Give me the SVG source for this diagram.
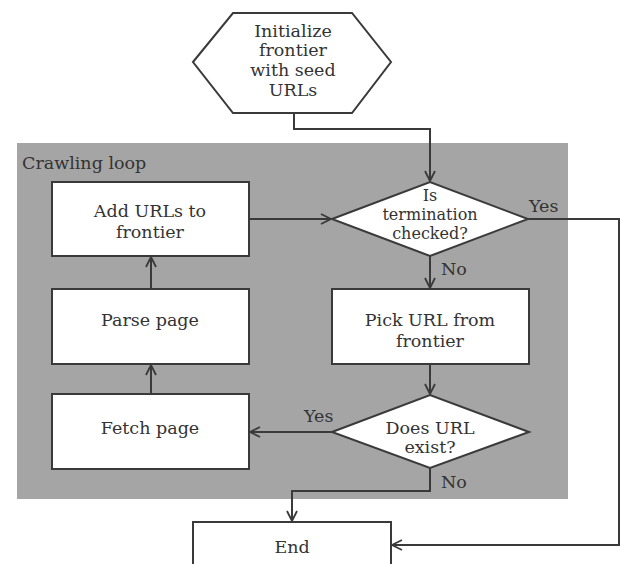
<svg xmlns="http://www.w3.org/2000/svg" width="621" height="564" viewBox="0 0 621 564">
<style>
.node{fill:#fff;stroke:#3a3a3a;stroke-width:2}
.t{font-family:"DejaVu Serif","Liberation Serif",serif;font-size:17.5px;fill:#333;text-anchor:middle}
.s{font-size:16px}
.lbl{font-family:"DejaVu Serif","Liberation Serif",serif;font-size:17.5px;fill:#333}
.c{fill:none;stroke:#3a3a3a;stroke-width:2}
</style>
<defs>
<marker id="arr" viewBox="0 0 12 12" refX="11" refY="6" markerWidth="12" markerHeight="12" markerUnits="userSpaceOnUse" orient="auto">
<path d="M1,1 L11,6 L1,11" fill="none" stroke="#3a3a3a" stroke-width="1.8"/>
</marker>
</defs>
<rect width="621" height="564" fill="#fff"/>
<g id="loop">
<rect x="17" y="143" width="551" height="356" fill="#a5a5a5"/>
<text class="lbl" x="22" y="169">Crawling loop</text>
</g>
<g id="connectors">
<path class="c" d="M294,113 V129 H430 V181" marker-end="url(#arr)"/>
<path class="c" d="M249,219 H331" marker-end="url(#arr)"/>
<path class="c" d="M528,219 H619 V545 H392" marker-end="url(#arr)"/>
<path class="c" d="M430,256 V288" marker-end="url(#arr)"/>
<path class="c" d="M430,364 V394" marker-end="url(#arr)"/>
<path class="c" d="M332,432 H250" marker-end="url(#arr)"/>
<path class="c" d="M151,394 V365" marker-end="url(#arr)"/>
<path class="c" d="M151,289 V257" marker-end="url(#arr)"/>
<path class="c" d="M430,468 V491 H292 V521" marker-end="url(#arr)"/>
<text class="lbl" x="529" y="212">Yes</text>
<text class="lbl" x="441" y="275">No</text>
<text class="lbl" x="304" y="422">Yes</text>
<text class="lbl" x="441" y="488">No</text>
</g>
<g id="init">
<polygon class="node" points="193,62 233,13 352,13 391,62 352,113 233,113"/>
<text class="t" x="293" y="37">Initialize</text>
<text class="t" x="293" y="56">frontier</text>
<text class="t" x="293" y="76">with seed</text>
<text class="t" x="293" y="96">URLs</text>
</g>
<g id="add">
<rect class="node" x="52" y="182" width="197" height="74"/>
<text class="t" x="150" y="217">Add URLs to</text>
<text class="t" x="150" y="238">frontier</text>
</g>
<g id="parse">
<rect class="node" x="52" y="289" width="197" height="75"/>
<text class="t" x="150" y="326">Parse page</text>
</g>
<g id="fetch">
<rect class="node" x="52" y="394" width="197" height="75"/>
<text class="t" x="150" y="434">Fetch page</text>
</g>
<g id="term">
<polygon class="node" points="332,219 430,182 528,219 430,256"/>
<text class="t s" x="430" y="200.5">Is</text>
<text class="t s" x="430" y="219.5">termination</text>
<text class="t s" x="430" y="238.5">checked?</text>
</g>
<g id="pick">
<rect class="node" x="332" y="289" width="197" height="75"/>
<text class="t" x="430" y="326">Pick URL from</text>
<text class="t" x="430" y="347">frontier</text>
</g>
<g id="exist">
<polygon class="node" points="332,432 430,395 529,432 430,468"/>
<text class="t" x="430" y="434">Does URL</text>
<text class="t" x="430" y="453">exist?</text>
</g>
<g id="end">
<rect class="node" x="193" y="522" width="198" height="60"/>
<text class="t" x="292" y="553">End</text>
</g>
</svg>
